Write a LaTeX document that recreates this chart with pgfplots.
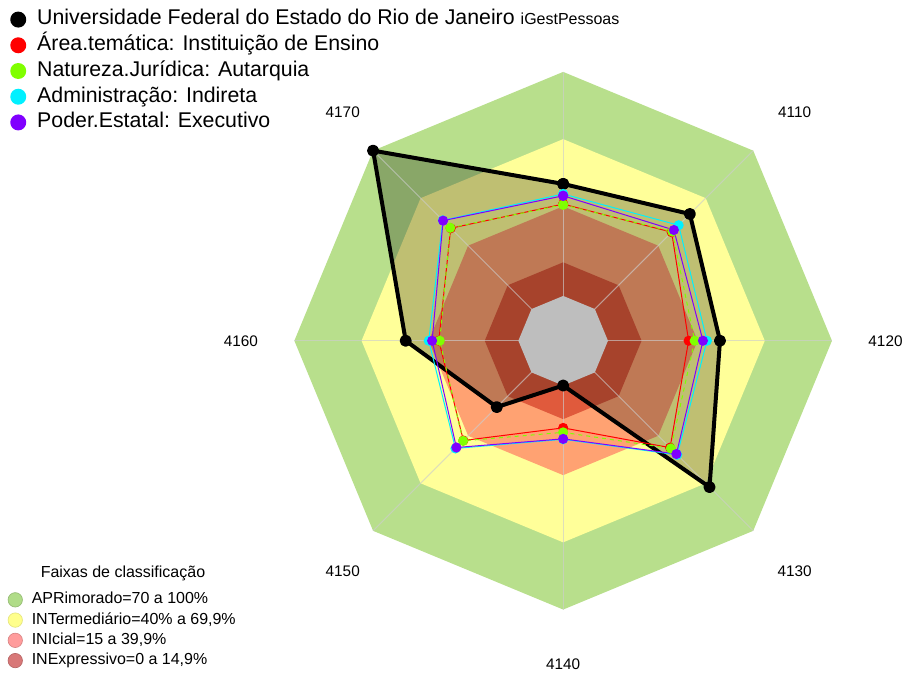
\documentclass[border=0pt]{standalone}
\usepackage{pgfplots}
\pgfplotsset{compat=1.18}
\usepackage{pgfplotstable}
\usepackage{fontspec}
\setmainfont{Liberation Sans}
\definecolor{cApr}{RGB}{184,223,140}
\definecolor{cInt}{RGB}{255,255,153}
\definecolor{cIni}{RGB}{255,162,114}
\definecolor{cInx}{RGB}{224,90,60}
\definecolor{cGray}{RGB}{190,190,190}
\definecolor{cRed}{RGB}{255,0,0}
\definecolor{cGreen}{RGB}{128,255,0}
\definecolor{cCyan}{RGB}{0,240,255}
\definecolor{cPurple}{RGB}{128,0,255}
\definecolor{lApr}{RGB}{176,220,136}
\definecolor{lInt}{RGB}{255,255,140}
\definecolor{lIni}{RGB}{255,156,156}
\definecolor{lInx}{RGB}{216,120,120}

% spoke angles (closed) and band limits
\pgfplotstableread{
a apr int ini inx ctr
90 100 70 40 15 0
45 100 70 40 15 0
0 100 70 40 15 0
-45 100 70 40 15 0
-90 100 70 40 15 0
-135 100 70 40 15 0
180 100 70 40 15 0
135 100 70 40 15 0
90 100 70 40 15 0
}\bands

% Universidade Federal do Estado do Rio de Janeiro
\pgfplotstableread{
a v
90 50
45 60
0 50
-45 72.4
-90 0
-135 21.9
180 50.3
135 100
90 50
}\unirio
% Area tematica: Instituicao de Ensino
\pgfplotstableread{
a v
90 41
45 48.5
0 36
-45 47.5
-90 18.9
-135 43
180 35.5
135 51
90 41
}\area
% Natureza juridica: Autarquia
\pgfplotstableread{
a v
90 40.7
45 48.9
0 38.7
-45 48
-90 20.9
-135 43.2
180 35.1
135 51.3
90 40.7
}\natur
% Administracao: Indireta
\pgfplotstableread{
a v
90 45.5
45 52.9
0 44.2
-45 52
-90 24
-135 48
180 40
135 56
90 45.5
}\admin
% Poder estatal: Executivo
\pgfplotstableread{
a v
90 44.7
45 49.9
0 42.4
-45 51.5
-90 23.8
-135 47.4
180 38.5
135 55.8
90 44.7
}\poder

\pgfplotsset{
  radargeom/.style={
    scale only axis, width=680.25pt, height=504.75pt,
    xmin=-251.4, xmax=153.2, ymin=-148.1, ymax=152.1,
    hide axis, clip=false,
  },
  table/band/.style={/pgfplots/table/x expr={(\thisrow{#1}+20)*cos(\thisrow{a})}, /pgfplots/table/y expr={(\thisrow{#1}+20)*sin(\thisrow{a})}},
  table/ser/.style={/pgfplots/table/x expr={(\thisrow{v}+20)*cos(\thisrow{a})}, /pgfplots/table/y expr={(\thisrow{v}+20)*sin(\thisrow{a})}},
}

\begin{document}
\begin{tikzpicture}
\begin{axis}[radargeom,
  legend style={at={(rel axis cs:0,1)}, anchor=north west, xshift=7.5pt, yshift=-6.5pt,
    draw=none, fill=none, inner sep=0pt, row sep=3.3pt, column sep=8.25pt,
    font=\fontsize{16}{18}\selectfont,
    nodes={inner sep=0pt, text height=12pt, text depth=4pt}},
  legend cell align=left,
  legend image code/.code={\fill[draw=none] (6pt,0pt) circle (6pt);},
]
\path (rel axis cs:0,0) rectangle (rel axis cs:1,1);
% bands
\addplot[forget plot, draw=none, fill=cApr] table[band=apr] {\bands};
\addplot[forget plot, draw=none, fill=cInt] table[band=int] {\bands};
\addplot[forget plot, draw=none, fill=cIni] table[band=ini] {\bands};
\addplot[forget plot, draw=none, fill=cInx] table[band=inx] {\bands};
% translucent fill of the institution polygon
\addplot[forget plot, draw=none, fill=black, fill opacity=0.25] table[ser] {\unirio};
% spokes
\addplot[forget plot, draw={rgb,255:red,205;green,205;blue,205}, opacity=0.65, line width=0.7pt] coordinates {(0,120) (0,-120)};
\addplot[forget plot, draw={rgb,255:red,205;green,205;blue,205}, opacity=0.65, line width=0.7pt] coordinates {(120,0) (-120,0)};
\addplot[forget plot, draw={rgb,255:red,205;green,205;blue,205}, opacity=0.65, line width=0.7pt] coordinates {(84.85,84.85) (-84.85,-84.85)};
\addplot[forget plot, draw={rgb,255:red,205;green,205;blue,205}, opacity=0.65, line width=0.7pt] coordinates {(84.85,-84.85) (-84.85,84.85)};
% center
\addplot[forget plot, draw=none, fill=cGray] table[band=ctr] {\bands};
% series
\addplot[black, line width=3pt, line join=round, mark=*, mark size=3pt] table[ser] {\unirio};
\addlegendentry{Universidade Federal do Estado do Rio de Janeiro {\fontsize{12}{14}\selectfont iGestPessoas}}
\addplot[cRed, line width=0.75pt, mark=*, mark size=3.4pt] table[ser] {\area};
\addlegendentry{Área.temática: Instituição de Ensino}
\addplot[cGreen, line width=0.75pt, dash pattern=on 3pt off 3pt, mark=*, mark size=3.4pt, mark options={solid}] table[ser] {\natur};
\addlegendentry{Natureza.Jurídica: Autarquia}
\addplot[cCyan, line width=0.75pt, mark=*, mark size=3.4pt] table[ser] {\admin};
\addlegendentry{Administração: Indireta}
\addplot[cPurple, line width=0.75pt, mark=*, mark size=3.4pt] table[ser] {\poder};
\addlegendentry{Poder.Estatal: Executivo}
% spoke labels
\begin{scope}[every node/.style={font=\fontsize{11.5}{13}\selectfont}]
\node at (axis cs:-98.4,102.2) {4170};
\node at (axis cs:103.3,102.2) {4110};
\node at (axis cs:143.9,0) {4120};
\node at (axis cs:103.3,-103) {4130};
\node at (axis cs:0,-144.5) {4140};
\node at (axis cs:-98.4,-103) {4150};
\node at (axis cs:-143.9,0) {4160};
\end{scope}
\node[font=\fontsize{12}{14}\selectfont] at (axis cs:-196.5,-103.9) {Faixas de classificação};
\end{axis}
\begin{axis}[radargeom,
  legend style={at={(rel axis cs:0,0)}, anchor=south west, xshift=5.6pt, yshift=2.75pt,
    draw=none, fill=none, inner sep=0pt, row sep=3.2pt, column sep=6.75pt,
    font=\fontsize{12}{14}\selectfont,
    nodes={inner sep=0pt, text height=9pt, text depth=3pt}},
  legend cell align=left,
  legend image code/.code={\filldraw[line width=0.5pt] (5.6pt,0pt) circle (5.4pt);},
]
\addlegendimage{fill=lApr, draw=lApr!85!black}
\addlegendentry{APRimorado=70 a 100\%}
\addlegendimage{fill=lInt, draw=lInt!90!black}
\addlegendentry{INTermediário=40\% a 69,9\%}
\addlegendimage{fill=lIni, draw=lIni!85!black}
\addlegendentry{INIcial=15 a 39,9\%}
\addlegendimage{fill=lInx, draw=lInx!85!black}
\addlegendentry{INExpressivo=0 a 14,9\%}
\end{axis}
\end{tikzpicture}
\end{document}
